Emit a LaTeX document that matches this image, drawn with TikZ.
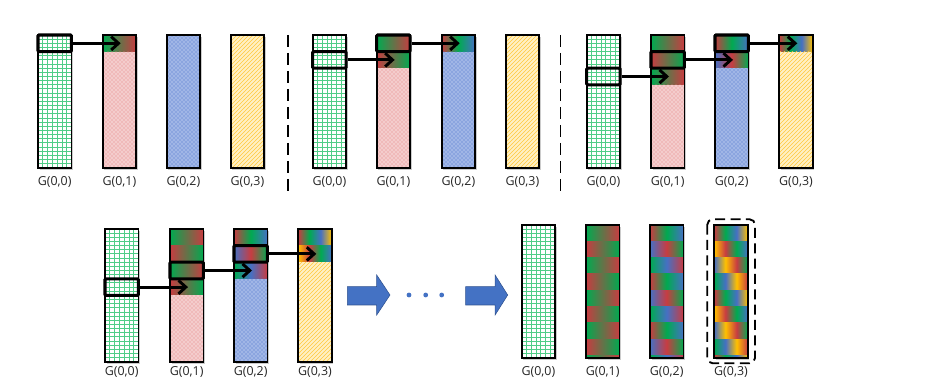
\documentclass[tikz,border=0pt]{standalone}
\usepackage{fontspec}
\setmainfont{Open Sans}
\usetikzlibrary{arrows.meta,patterns}
\definecolor{cg}{RGB}{0,170,80}
\definecolor{cr}{RGB}{200,60,65}
\definecolor{cb}{RGB}{70,112,196}
\definecolor{cy}{RGB}{255,192,0}
\definecolor{gridgreen}{RGB}{80,205,135}
\definecolor{pinkbg}{RGB}{244,204,204}
\definecolor{pinkdot}{RGB}{228,130,130}
\definecolor{bluebg}{RGB}{160,182,230}
\definecolor{bluedot}{RGB}{70,110,200}
\definecolor{ybg}{RGB}{255,240,196}
\definecolor{yline}{RGB}{255,200,60}
\definecolor{arrblue}{RGB}{68,114,196}
\definecolor{arrborder}{RGB}{47,82,143}
\pgfdeclarehorizontalshading{sGR}{100bp}{color(0bp)=(cg); color(25bp)=(cg); color(75bp)=(cr); color(100bp)=(cr)}
\pgfdeclarehorizontalshading{sRG}{100bp}{color(0bp)=(cr); color(25bp)=(cr); color(75bp)=(cg); color(100bp)=(cg)}
\pgfdeclarehorizontalshading{sRGB}{100bp}{color(0bp)=(cr); color(25bp)=(cr); color(50bp)=(cg); color(75bp)=(cb); color(100bp)=(cb)}
\pgfdeclarehorizontalshading{sBRG}{100bp}{color(0bp)=(cb); color(25bp)=(cb); color(50bp)=(cr); color(75bp)=(cg); color(100bp)=(cg)}
\pgfdeclarehorizontalshading{sGBR}{100bp}{color(0bp)=(cg); color(25bp)=(cg); color(50bp)=(cb); color(75bp)=(cr); color(100bp)=(cr)}
\pgfdeclarehorizontalshading{sRGBY}{100bp}{color(0bp)=(cr); color(25bp)=(cr); color(41.67bp)=(cg); color(58.33bp)=(cb); color(75bp)=(cy); color(100bp)=(cy)}
\pgfdeclarehorizontalshading{sYRGB}{100bp}{color(0bp)=(cy); color(25bp)=(cy); color(41.67bp)=(cr); color(58.33bp)=(cg); color(75bp)=(cb); color(100bp)=(cb)}
\pgfdeclarehorizontalshading{sBYRG}{100bp}{color(0bp)=(cb); color(25bp)=(cb); color(41.67bp)=(cy); color(58.33bp)=(cr); color(75bp)=(cg); color(100bp)=(cg)}
\pgfdeclarehorizontalshading{sGBYR}{100bp}{color(0bp)=(cg); color(25bp)=(cg); color(41.67bp)=(cb); color(58.33bp)=(cy); color(75bp)=(cr); color(100bp)=(cr)}
\def\colW{33.4}
\def\colH{133}
\def\blk{16.6}
\tikzset{
  colfr/.style={draw=black, line width=1.3pt, inner sep=0pt, minimum width=25.05pt, minimum height=99.75pt},
  hlbox/.style={draw=black, line width=2.3pt, rounded corners=0.8pt, inner sep=0pt, minimum width=25.05pt, minimum height=12.45pt},
  arr/.style={draw=black, line width=2.2pt, -{Straight Barb[length=5.5pt,width=10pt]}},
  lbl/.style={font=\fontsize{9.3}{11}\selectfont, text=black!85, inner sep=0pt},
  gridln/.style={draw=gridgreen, line width=0.7pt},
  sepline/.style={line width=1.4pt, dash pattern=on 9pt off 4.5pt},
}
\newcommand\shadowcol[2]{\fill[black!20] ({#1+1.6},{#2+1.6}) rectangle ({#1+\colW+1.6},{#2+\colH+1.6});}
\newcommand\gridfill[2]{\fill[white] (#1,#2) rectangle ({#1+\colW},{#2+\colH});
  \foreach \i in {1,...,6}{\draw[gridln] ({#1+\i*4.8},#2) -- ({#1+\i*4.8},{#2+\colH});}
  \foreach \j in {1,...,31}{\draw[gridln] (#1,{#2+\j*4.15}) -- ({#1+\colW},{#2+\j*4.15});}}
\newcommand\pinkfill[3]{\fill[pinkbg] (#1,{#2+#3}) rectangle ({#1+\colW},{#2+\colH});
  \fill[pattern=crosshatch dots, pattern color=pinkdot] (#1,{#2+#3}) rectangle ({#1+\colW},{#2+\colH});}
\newcommand\bluefill[3]{\fill[bluebg] (#1,{#2+#3}) rectangle ({#1+\colW},{#2+\colH});
  \fill[pattern=crosshatch dots, pattern color=bluedot] (#1,{#2+#3}) rectangle ({#1+\colW},{#2+\colH});}
\newcommand\yellowfill[3]{\fill[ybg] (#1,{#2+#3}) rectangle ({#1+\colW},{#2+\colH});
  \fill[pattern=north east lines, pattern color=yline] (#1,{#2+#3}) rectangle ({#1+\colW},{#2+\colH});}
\newcommand\blockfill[4]{\fill[shading=#4] (#1,{#2+(#3-1)*\blk}) rectangle ({#1+\colW},{#2+#3*\blk});}
\newcommand\frameat[3]{\node[colfr] (#1) at ({#2+\colW/2},{#3+\colH/2}) {};}
\newcommand\boxat[4]{\node[hlbox] (#1) at ({#2+\colW/2},{#3+(#4-0.5)*\blk}) {};}
\newcommand\tipat[4]{\coordinate (#1) at ({#2+18},{#3+(#4-0.5)*\blk});}
\newcommand\labelat[4]{\node[lbl] (#1) at ({#2+\colW/2},#3) {#4};}
\begin{document}
\begin{tikzpicture}[x=0.75pt,y=-0.75pt]
\useasboundingbox (0,0) rectangle (951,392);
% ---------------- Panel 1 ----------------
\foreach \xx in {38,102.7,166.7,230.7}{\shadowcol{\xx}{35}}
\gridfill{38}{35}
\blockfill{102.7}{35}{1}{sGR}\pinkfill{102.7}{35}{16.6}
\bluefill{166.7}{35}{0}
\yellowfill{230.7}{35}{0}
\frameat{a0}{38}{35}\frameat{a1}{102.7}{35}\frameat{a2}{166.7}{35}\frameat{a3}{230.7}{35}
\labelat{la0}{38}{181.5}{G(0,0)}\labelat{la1}{102.7}{181.5}{G(0,1)}\labelat{la2}{166.7}{181.5}{G(0,2)}\labelat{la3}{230.7}{181.5}{G(0,3)}
\boxat{ab0}{38}{35}{1}
\tipat{at1}{102.7}{35}{1}
\draw[arr] (ab0.east) -- (at1);
% separator
\draw[sepline] (288.3,35) -- (288.3,195);
% ---------------- Panel 2 ----------------
\foreach \xx in {312.7,376.7,441.7,505.7}{\shadowcol{\xx}{35}}
\gridfill{312.7}{35}
\blockfill{376.7}{35}{1}{sGR}\blockfill{376.7}{35}{2}{sRG}\pinkfill{376.7}{35}{33.2}
\blockfill{441.7}{35}{1}{sRGB}\bluefill{441.7}{35}{16.6}
\yellowfill{505.7}{35}{0}
\frameat{b0}{312.7}{35}\frameat{b1}{376.7}{35}\frameat{b2}{441.7}{35}\frameat{b3}{505.7}{35}
\labelat{lb0}{312.7}{181.5}{G(0,0)}\labelat{lb1}{376.7}{181.5}{G(0,1)}\labelat{lb2}{441.7}{181.5}{G(0,2)}\labelat{lb3}{505.7}{181.5}{G(0,3)}
\boxat{bb0}{312.7}{35}{2}\boxat{bb1}{376.7}{35}{1}
\tipat{bt1}{376.7}{35}{2}\tipat{bt2}{441.7}{35}{1}
\draw[arr] (bb0.east) -- (bt1);
\draw[arr] (bb1.east) -- (bt2);
% separator
\draw[sepline] (560.5,35) -- (560.5,195);
% ---------------- Panel 3 ----------------
\foreach \xx in {586.7,651,715,779.3}{\shadowcol{\xx}{35}}
\gridfill{586.7}{35}
\blockfill{651}{35}{1}{sGR}\blockfill{651}{35}{2}{sRG}\blockfill{651}{35}{3}{sGR}\pinkfill{651}{35}{49.8}
\blockfill{715}{35}{1}{sRGB}\blockfill{715}{35}{2}{sBRG}\bluefill{715}{35}{33.2}
\blockfill{779.3}{35}{1}{sRGBY}\yellowfill{779.3}{35}{16.6}
\frameat{c0}{586.7}{35}\frameat{c1}{651}{35}\frameat{c2}{715}{35}\frameat{c3}{779.3}{35}
\labelat{lc0}{586.7}{181.5}{G(0,0)}\labelat{lc1}{651}{181.5}{G(0,1)}\labelat{lc2}{715}{181.5}{G(0,2)}\labelat{lc3}{779.3}{181.5}{G(0,3)}
\boxat{cb0}{586.7}{35}{3}\boxat{cb1}{651}{35}{2}\boxat{cb2}{715}{35}{1}
\tipat{ct1}{651}{35}{3}\tipat{ct2}{715}{35}{2}\tipat{ct3}{779.3}{35}{1}
\draw[arr] (cb0.east) -- (ct1);
\draw[arr] (cb1.east) -- (ct2);
\draw[arr] (cb2.east) -- (ct3);
% ---------------- Panel 4 ----------------
\foreach \xx in {105,170,234,298.3}{\shadowcol{\xx}{229}}
\gridfill{105}{229}
\blockfill{170}{229}{1}{sGR}\blockfill{170}{229}{2}{sRG}\blockfill{170}{229}{3}{sGR}\blockfill{170}{229}{4}{sRG}\pinkfill{170}{229}{66.4}
\blockfill{234}{229}{1}{sRGB}\blockfill{234}{229}{2}{sBRG}\blockfill{234}{229}{3}{sGBR}\bluefill{234}{229}{49.8}
\blockfill{298.3}{229}{1}{sRGBY}\blockfill{298.3}{229}{2}{sYRGB}\yellowfill{298.3}{229}{33.2}
\frameat{d0}{105}{229}\frameat{d1}{170}{229}\frameat{d2}{234}{229}\frameat{d3}{298.3}{229}
\labelat{ld0}{105}{372}{G(0,0)}\labelat{ld1}{170}{372}{G(0,1)}\labelat{ld2}{234}{372}{G(0,2)}\labelat{ld3}{298.3}{372}{G(0,3)}
\boxat{db0}{105}{229}{4}\boxat{db1}{170}{229}{3}\boxat{db2}{234}{229}{2}
\tipat{dt1}{170}{229}{4}\tipat{dt2}{234}{229}{3}\tipat{dt3}{298.3}{229}{2}
\draw[arr] (db0.east) -- (dt1);
\draw[arr] (db1.east) -- (dt2);
\draw[arr] (db2.east) -- (dt3);
% ---------------- block arrows and dots ----------------
\filldraw[fill=arrblue, draw=arrborder, line width=0.4pt] (347.3,286.7) -- (376.7,286.7) -- (376.7,275) -- (390,295) -- (376.7,315) -- (376.7,305) -- (347.3,305) -- cycle;
\filldraw[fill=arrblue, draw=arrborder, line width=0.4pt] (465.7,286.7) -- (495.1,286.7) -- (495.1,275) -- (507.7,295) -- (495.1,315) -- (495.1,305) -- (465.7,305) -- cycle;
\fill[arrblue] (409,295) circle[radius=1.8pt];
\fill[arrblue] (425.7,295) circle[radius=1.8pt];
\fill[arrblue] (441.7,295) circle[radius=1.8pt];
% ---------------- Panel 5 ----------------
\def\blk{16.3}
\foreach \xx in {521.7,586,650,714.3}{\shadowcol{\xx}{225}}
\gridfill{521.7}{225}
\foreach \k/\s in {1/sGR,2/sRG,3/sGR,4/sRG,5/sGR,6/sRG,7/sGR,8/sRG}{\blockfill{586}{225}{\k}{\s}}
\fill[shading=sGR] (586,355.4) rectangle ({586+\colW},358);
\foreach \k/\s in {1/sRGB,2/sBRG,3/sGBR,4/sRGB,5/sBRG,6/sGBR,7/sRGB,8/sBRG}{\blockfill{650}{225}{\k}{\s}}
\fill[shading=sGBR] (650,355.4) rectangle ({650+\colW},358);
\foreach \k/\s in {1/sRGBY,2/sYRGB,3/sBYRG,4/sGBYR,5/sRGBY,6/sYRGB,7/sBYRG,8/sGBYR}{\blockfill{714.3}{225}{\k}{\s}}
\fill[shading=sRGBY] (714.3,355.4) rectangle ({714.3+\colW},358);
\frameat{e0}{521.7}{225}\frameat{e1}{586}{225}\frameat{e2}{650}{225}\frameat{e3}{714.3}{225}
\labelat{le0}{521.7}{372}{G(0,0)}\labelat{le1}{586}{372}{G(0,1)}\labelat{le2}{650}{372}{G(0,2)}\labelat{le3}{714.3}{372}{G(0,3)}
\draw[line width=1.4pt, dash pattern=on 7.5pt off 4pt, rounded corners=4pt] (707.3,219.3) rectangle (755,363.3);
\end{tikzpicture}
\end{document}
